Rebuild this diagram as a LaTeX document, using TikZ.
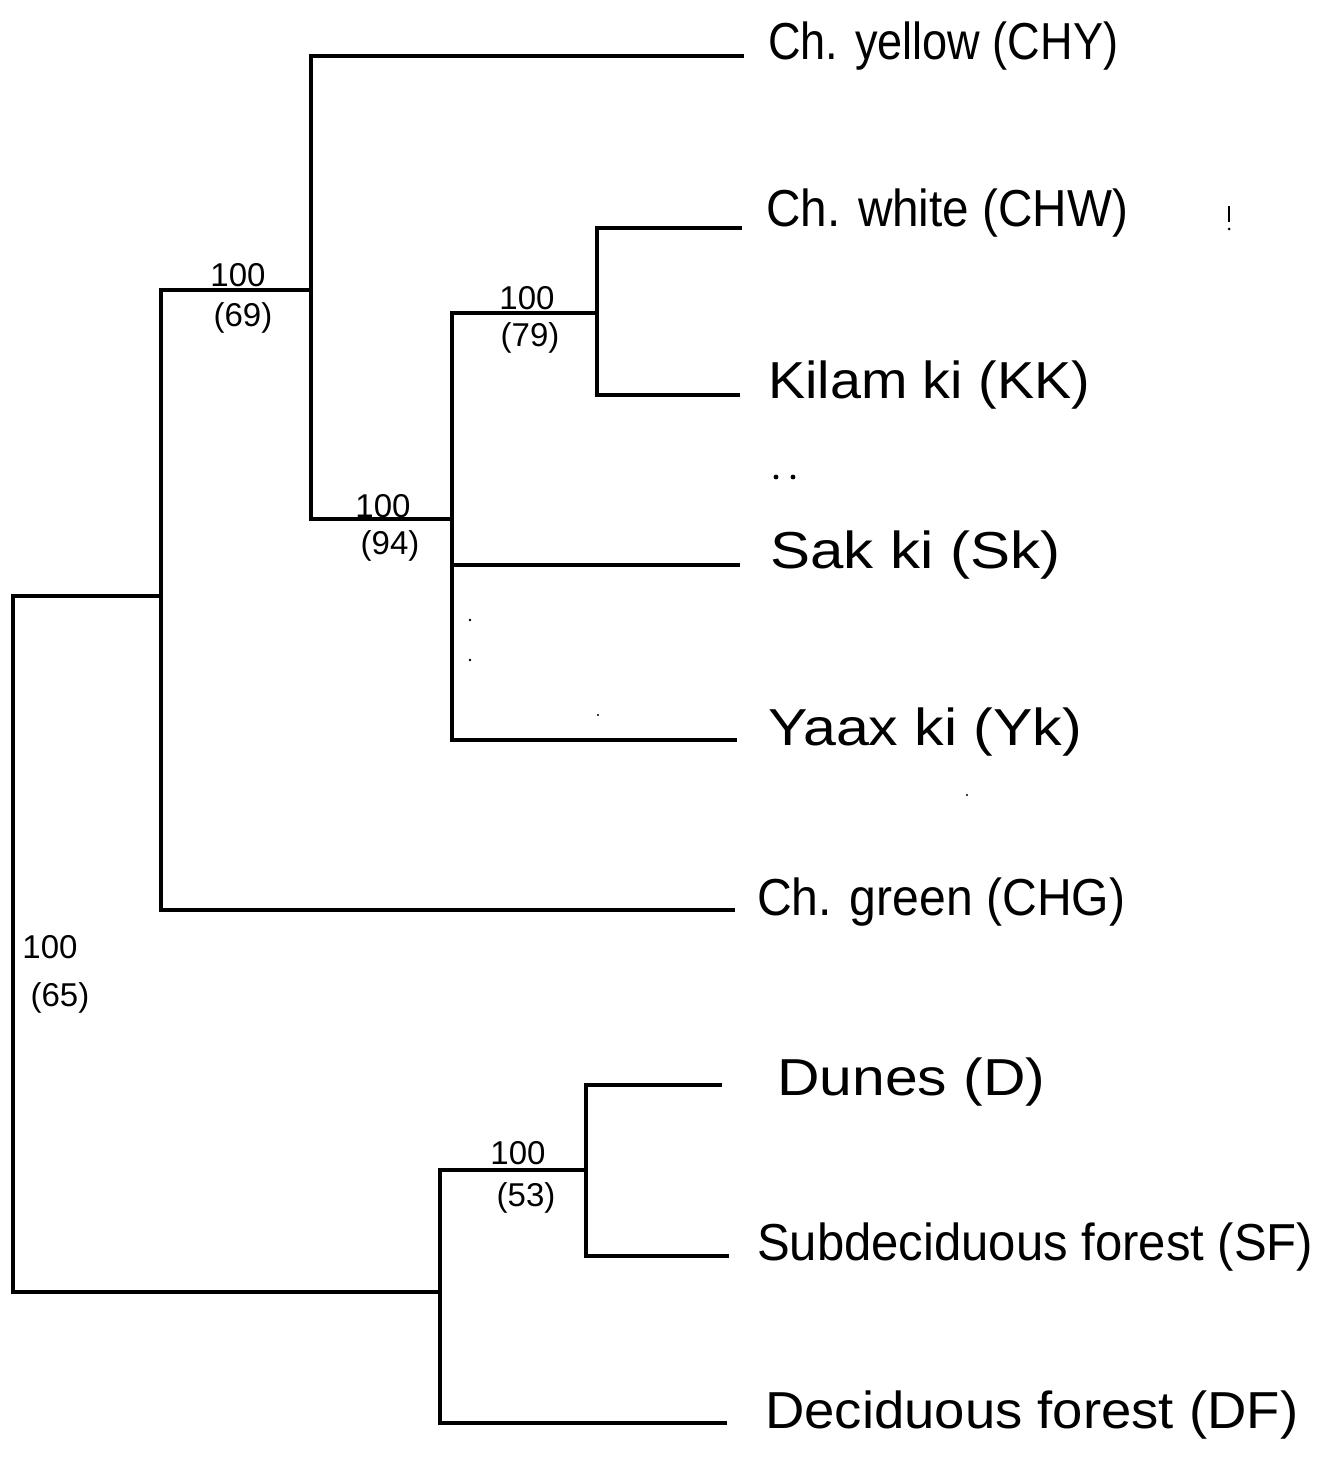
\documentclass[tikz,border=0pt]{standalone}
\usepackage{fontspec}
\setmainfont{Liberation Sans}
\usepackage{graphicx}
\newcommand\leaftxt[2]{\resizebox{#1pt}{\height}{\fontsize{52}{58}\selectfont #2}}
\begin{document}
\begin{tikzpicture}[x=1pt,y=-1pt,
  branch/.style={line width=3.2pt,line cap=rect},
  leaflbl/.style={anchor=base west,inner sep=0pt},
  supp/.style={inner sep=0pt,font=\fontsize{33}{35}\selectfont},
  speck/.style={fill=black}]
\useasboundingbox (0,0) rectangle (1324,1458);
% internal nodes (x of vertical bar, y where joined from parent)
\coordinate (r) at (13,944);
\coordinate (A) at (161,596);
\coordinate (B) at (311,290);
\coordinate (C) at (452,519);
\coordinate (D) at (597,313);
\coordinate (E) at (440,1292);
\coordinate (F) at (586,1170);
% leaf ends
\coordinate (lCHY) at (742,56);
\coordinate (lCHW) at (740,228);
\coordinate (lKK)  at (738,395);
\coordinate (lSK)  at (738,565);
\coordinate (lYK)  at (735,740);
\coordinate (lCHG) at (733,910);
\coordinate (lD)   at (720,1085);
\coordinate (lSF)  at (727,1256);
\coordinate (lDF)  at (725,1423);
% branches
\draw[branch] (r) |- (A);
\draw[branch] (r) |- (E);
\draw[branch] (A) |- (B);
\draw[branch] (A) |- (lCHG);
\draw[branch] (B) |- (lCHY);
\draw[branch] (B) |- (C);
\draw[branch] (C) |- (D);
\draw[branch] (C) |- (lSK);
\draw[branch] (C) |- (lYK);
\draw[branch] (D) |- (lCHW);
\draw[branch] (D) |- (lKK);
\draw[branch] (E) |- (F);
\draw[branch] (E) |- (lDF);
\draw[branch] (F) |- (lD);
\draw[branch] (F) |- (lSF);
% leaf labels
\node[leaflbl] (tCHY) at (768,60)  {\leaftxt{350}{Ch. yellow (CHY)}};
\node[leaflbl] (tCHW) at (766,226) {\leaftxt{362}{Ch. white (CHW)}};
\node[leaflbl] (tKK)  at (768,398) {\leaftxt{322}{Kilam ki (KK)}};
\node[leaflbl] (tSK)  at (770,568) {\leaftxt{290}{Sak ki (Sk)}};
\node[leaflbl] (tYK)  at (768,745) {\leaftxt{314}{Yaax ki (Yk)}};
\node[leaflbl] (tCHG) at (757,915) {\leaftxt{368}{Ch. green (CHG)}};
\node[leaflbl] (tD)   at (777,1095){\leaftxt{268}{Dunes (D)}};
\node[leaflbl] (tSF)  at (757,1260){\leaftxt{556}{Subdeciduous forest (SF)}};
\node[leaflbl] (tDF)  at (765,1428){\leaftxt{533}{Deciduous forest (DF)}};
% support values
\node[supp] (s1a) at (238,275) {100};
\node[supp] (s1b) at (243,318) {(69)};
\node[supp] (s2a) at (383,506) {100};
\node[supp] (s2b) at (390,546) {(94)};
\node[supp] (s3a) at (527,298) {100};
\node[supp] (s3b) at (530,338) {(79)};
\node[supp] (s4a) at (518,1153) {100};
\node[supp] (s4b) at (526,1198) {(53)};
\node[supp] (s5a) at (50,947) {100};
\node[supp] (s5b) at (60,998) {(65)};
% scan specks
\fill[speck] (776,477) circle (2.4);
\fill[speck] (793,477) circle (2.4);
\fill[speck] (1227.5,206) rectangle (1230,222);
\fill[speck] (1229,229) circle (1.5);
\fill[speck] (470,620) circle (1.3);
\fill[speck] (470,660) circle (1.3);
\fill[speck] (598,715) circle (1.1);
\fill[speck] (967,795) circle (1.1);
\end{tikzpicture}
\end{document}
